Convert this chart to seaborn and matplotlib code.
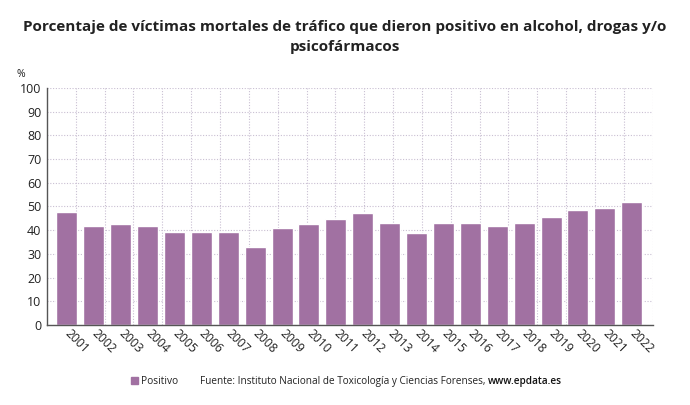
import numpy as np
import pandas as pd
import matplotlib
matplotlib.use("Agg")
import matplotlib.pyplot as plt
import seaborn as sns

# datos
anios = [str(a) for a in range(2001, 2023)]
positivo = [47.8, 41.9, 42.5, 41.9, 39.2, 39.2, 39.2, 32.9, 40.9, 42.4, 44.9,
            47.1, 43.0, 39.0, 43.0, 42.9, 41.9, 43.2, 45.5, 48.5, 49.4, 51.8]
yticks = list(range(0, 101, 10))

titulo = "Porcentaje de víctimas mortales de tráfico que dieron positivo en alcohol, drogas y/o\npsicofármacos"
fuente = "Fuente: Instituto Nacional de Toxicología y Ciencias Forenses, "
web = "www.epdata.es"

df = pd.DataFrame({"anio": anios, "valor": positivo})

sns.set_style("white")
plt.rcParams["font.family"] = ["Open Sans", "DejaVu Sans"]

color_barra = "#a171a2"
texto = "#222222"

fig = plt.figure(figsize=(6.9, 4.05), dpi=100)
ax = fig.add_axes([0.068, 0.1975, 0.878, 0.5855])

sns.barplot(data=df, x="anio", y="valor", color=color_barra, width=0.78,
            saturation=1, ax=ax, zorder=2)

ax.set_ylim(0, 100)
ax.set_yticks(yticks)
ax.set_xlim(-0.74, 21.78)
ax.set_xlabel("")
ax.set_ylabel("")

# rejilla punteada
ax.yaxis.grid(True, linestyle=(0, (1, 1.5)), color="#c9bfd2", linewidth=0.8, zorder=0)
ax.vlines(np.linspace(0, 1, 22)[1:], 0, 1, transform=ax.transAxes,
          linestyle=(0, (1, 1.5)), color="#c9bfd2", linewidth=0.8, zorder=0)

for s in ["top", "right"]:
    ax.spines[s].set_visible(False)
for s in ["left", "bottom"]:
    ax.spines[s].set_linestyle((0, (1, 1)))
    ax.spines[s].set_color("#555555")
    ax.spines[s].set_linewidth(1.0)

ax.tick_params(axis="y", length=0, labelsize=9, labelcolor=texto, pad=4)
ax.tick_params(axis="x", length=3, width=0.8, color="#555555", labelsize=8.7,
               labelcolor=texto, pad=2)
for lab in ax.get_xticklabels():
    lab.set_rotation(-45)
    lab.set_ha("left")
    lab.set_va("center")
    lab.set_rotation_mode("anchor")

fig.text(0.5, 0.908, titulo, ha="center", va="center", fontsize=11,
         fontweight="bold", color=texto, linespacing=1.55)
fig.text(0.024, 0.815, "%", fontsize=7.5, color=texto, ha="left", va="center")

# leyenda y fuente
fig.patches.append(plt.Rectangle((0.190, 0.052), 0.0095, 0.0165, transform=fig.transFigure,
                                 color=color_barra, figure=fig))
fig.text(0.204, 0.059, "Positivo", fontsize=7.3, color=texto, va="center")
t = fig.text(0.290, 0.059, fuente, fontsize=7.2, color=texto, va="center")
fig.canvas.draw()
bb = t.get_window_extent().transformed(fig.transFigure.inverted())
fig.text(bb.x1, 0.059, web, fontsize=7.2, color="#111111", fontweight="semibold", va="center")

plt.savefig("out.png", dpi=100)
